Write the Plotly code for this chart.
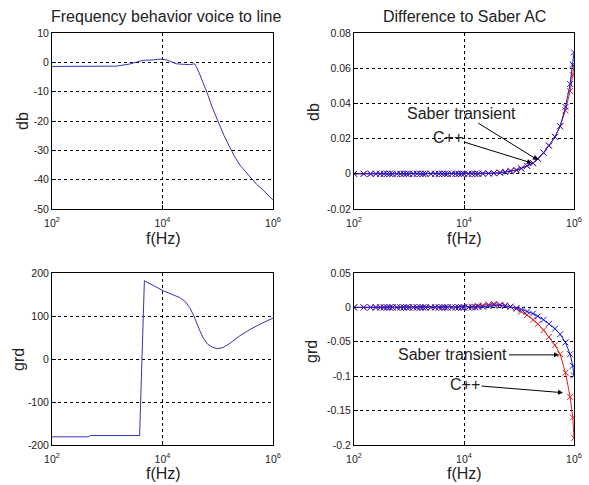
import numpy as np
import plotly.graph_objects as go
from plotly.subplots import make_subplots

# Frequency behavior voice to line: magnitude
f_mag = [100, 500, 1450, 2500, 4500, 6500, 9000, 12000, 17800, 25000, 31000, 38000,
         41000, 47000, 56000, 66000, 80000, 100000, 130000, 166000, 200000, 251000,
         310000, 380000, 500000, 660000, 800000, 1000000]
mag_db = [-1.4, -1.4, -1.3, -0.6, 0.7, 0.8, 1.1, 0.8, -0.5, -0.7, -0.8, -0.5,
          -1.5, -4, -7.5, -11, -15.5, -20, -25, -29, -32, -35,
          -37, -39, -41.5, -43.5, -45, -47]

# Frequency behavior voice to line: phase
f_ph = [100, 450, 500, 3850, 4700, 7000, 10200, 15000, 20400, 26000, 31000, 37000,
        41000, 47000, 54000, 65000, 81000, 100000, 126000, 160000, 251000, 400000,
        630000, 1000000]
phase_grd = [-181, -181, -178, -178, 182, 170, 159, 150, 143, 133, 120, 100,
             85, 67, 50, 35, 27, 24, 27, 35, 54, 70,
             83, 95]

# Difference to Saber AC
f_diff = [100, 150, 200, 250, 300, 350, 400, 450, 500, 600, 700, 800, 900, 1000,
          1200, 1400, 1600, 1800, 2000, 2500, 3000, 3500, 4000, 4500, 5000, 6000,
          7000, 8000, 9000, 10000, 12000, 14000, 16000, 18000, 22000, 28000, 35000,
          45000, 56000, 70000, 90000, 110000, 140000, 180000, 220000, 280000, 350000,
          450000, 560000, 700000, 850000, 950000, 1000000]
db_saber = [0, 0, 0, 0, 0, 0, 0, 0, 0, 0, 0, 0, 0, 0,
            0, 0, 0, 0, 0, 0, 0, 0, 0, 0, 0, 0,
            0, 0, 0, 0, 0, 0, 0, 0, 0.0001, 0.0002, 0.0003,
            0.0006, 0.001, 0.0015, 0.002, 0.003, 0.0045, 0.006, 0.0085, 0.012, 0.016,
            0.021, 0.027, 0.038, 0.051, 0.062, 0.069]
db_cpp = [0, 0, 0, 0, 0, 0, 0, 0, 0, 0, 0, 0, 0, 0,
          0, 0, 0, 0, 0, 0, 0, 0, 0, 0, 0, 0,
          0, 0, 0, 0, 0, 0, 0, 0, 0.0001, 0.0002, 0.0004,
          0.0007, 0.0011, 0.0016, 0.0022, 0.0031, 0.0046, 0.0062, 0.0087, 0.012, 0.016,
          0.021, 0.027, 0.036, 0.047, 0.056, 0.061]
grd_saber = [0, 0, 0, 0, 0, 0, 0, 0, 0, 0, 0, 0, 0, 0,
             0, 0, 0, 0, 0, 0, 0, 0, 0, 0, 0, 0,
             0, 0, 0, 0, 0, 0, 0, 0.001, 0.001, 0.002, 0.003,
             0.003, 0.002, 0.001, -0.001, -0.003, -0.006, -0.009, -0.013, -0.018, -0.024,
             -0.031, -0.039, -0.051, -0.068, -0.085, -0.099]
grd_cpp = [0, 0, 0, 0, 0, 0, 0, 0, 0, 0, 0, 0, 0, 0,
           0, 0, 0, 0, 0, 0, 0, 0, 0, 0, 0, 0,
           0, 0, 0, 0, 0, 0.001, 0.001, 0.002, 0.003, 0.004, 0.005,
           0.004, 0.003, 0.001, -0.002, -0.006, -0.011, -0.018, -0.024, -0.033, -0.043,
           -0.055, -0.068, -0.095, -0.13, -0.16, -0.19]

x_ticks = [1e2, 1e4, 1e6]
x_ticktext = ["10<sup>2</sup>", "10<sup>4</sup>", "10<sup>6</sup>"]

FONT = "Liberation Sans, Arial, sans-serif"
BLUE = "#1c1cd6"
RED = "#e02424"

fig = make_subplots(rows=2, cols=2)

fig.add_trace(go.Scatter(x=f_mag, y=mag_db, mode="lines",
                         line=dict(color="#3333b8", width=1)), row=1, col=1)
fig.add_trace(go.Scatter(x=f_ph, y=phase_grd, mode="lines",
                         line=dict(color="#3333b8", width=1)), row=2, col=1)

for r, ys in [(1, (db_cpp, db_saber)), (2, (grd_cpp, grd_saber))]:
    fig.add_trace(go.Scatter(x=f_diff, y=ys[0], mode="lines+markers", name="C++",
                             line=dict(color=RED, width=1),
                             marker=dict(symbol="x-thin", size=6,
                                         line=dict(color=RED, width=1))),
                  row=r, col=2)
    fig.add_trace(go.Scatter(x=f_diff, y=ys[1], mode="lines+markers", name="Saber transient",
                             line=dict(color=BLUE, width=1),
                             marker=dict(symbol="x-thin", size=6,
                                         line=dict(color=BLUE, width=1))),
                  row=r, col=2)

W, H = 589, 485
xdom_l = [52 / W, 273 / W]
xdom_r = [354 / W, 574 / W]
ydom_t = [1 - 209 / H, 1 - 33 / H]
ydom_b = [1 - 445 / H, 1 - 273 / H]

axis_common = dict(showline=True, mirror=True, linecolor="black", linewidth=1,
                   ticks="inside", ticklen=4, tickcolor="black", automargin=False,
                   showgrid=True, gridcolor="black", gridwidth=1, griddash="3px,3px",
                   zeroline=False, tickfont=dict(family=FONT, size=10.5, color="#222"))

xax = dict(axis_common, type="log", range=[2, 6], tickvals=x_ticks, ticktext=x_ticktext,
           ticklabelstandoff=4)
fig.update_layout(
    xaxis=dict(xax, domain=xdom_l),
    xaxis2=dict(xax, domain=xdom_r),
    xaxis3=dict(xax, domain=xdom_l),
    xaxis4=dict(xax, domain=xdom_r),
    yaxis=dict(axis_common, domain=ydom_t, range=[-50, 10],
               tickvals=[10, 0, -10, -20, -30, -40, -50],
               ticktext=["10", "0", "-10", "-20", "-30", "-40", "-50"]),
    yaxis2=dict(axis_common, domain=ydom_t, range=[-0.02, 0.08],
                tickvals=[0.08, 0.06, 0.04, 0.02, 0, -0.02],
                ticktext=["0.08", "0.06", "0.04", "0.02", "0", "-0.02"]),
    yaxis3=dict(axis_common, domain=ydom_b, range=[-200, 200],
                tickvals=[200, 100, 0, -100, -200],
                ticktext=["200", "100", "0", "-100", "-200"]),
    yaxis4=dict(axis_common, domain=ydom_b, range=[-0.2, 0.05],
                tickvals=[0.05, 0, -0.05, -0.1, -0.15, -0.2],
                ticktext=["0.05", "0", "-0.05", "-0.1", "-0.15", "-0.2"]),
)


def px_note(text, x, y, size=16, angle=0):
    return dict(text=text, xref="paper", yref="paper", x=x / W, y=1 - y / H,
                xanchor="center", yanchor="middle", showarrow=False, textangle=angle,
                font=dict(family=FONT, size=size, color="#222"))


notes = [
    px_note("Frequency behavior voice to line", 166, 17),
    px_note("Difference to Saber AC", 464, 17),
    px_note("f(Hz)", 163, 238), px_note("f(Hz)", 464, 238),
    px_note("f(Hz)", 163, 473), px_note("f(Hz)", 464, 473),
    px_note("db", 22, 121, angle=-90), px_note("grd", 18, 360, angle=-90),
    px_note("db", 313, 112, angle=-90), px_note("grd", 311, 352, angle=-90),
]


def arrow_note(text, xa, ya, f, v, ax, ay):
    return dict(text=text, xref=xa, yref=ya, x=np.log10(f), y=v, ax=ax, ay=ay,
                showarrow=True, arrowhead=2, arrowsize=1, arrowwidth=1,
                arrowcolor="black", standoff=0,
                font=dict(family=FONT, size=16, color="#222"))


notes += [
    arrow_note("Saber transient", "x2", "y2", 221000, 0.0078, -76, -47),
    arrow_note("C++", "x2", "y2", 172000, 0.0061, -84, -26),
    arrow_note("Saber transient", "x4", "y4", 533000, -0.069, -106, 0),
    arrow_note("C++", "x4", "y4", 631000, -0.124, -98, -8),
]

fig.update_layout(
    width=W, height=H, showlegend=False,
    paper_bgcolor="white", plot_bgcolor="white",
    margin=dict(l=0, r=0, t=0, b=0, pad=0, autoexpand=False),
    annotations=notes,
)

# the page body has a default margin; drop it so the figure sits at the window corner
fig.write_html("out.html", config={"displayModeBar": False},
               post_script="document.body.style.margin='0px';document.body.style.overflow='hidden';")
